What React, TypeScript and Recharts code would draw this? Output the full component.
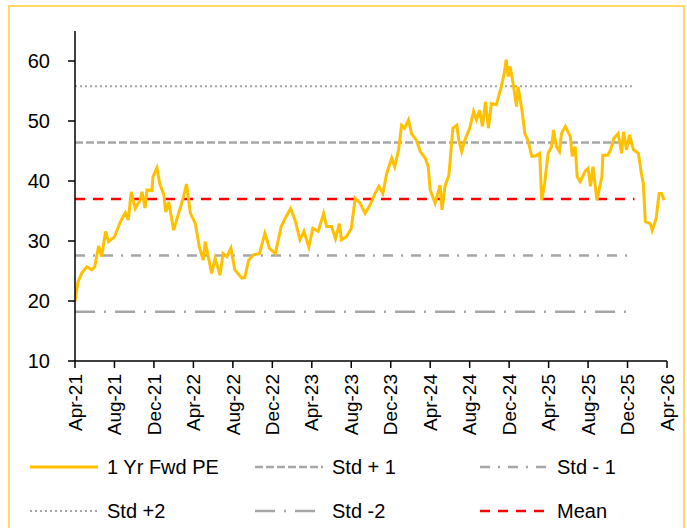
import { LineChart, Line, XAxis, YAxis } from "recharts";

// months since Apr-21 and 1 Yr Fwd PE
const months = [
  0.0, 0.3, 0.7, 1.2, 1.7, 2.0, 2.4, 2.7, 3.1, 3.4, 4.0, 4.6, 5.1, 5.4, 5.7, 6.1, 6.6, 6.8, 7.1, 7.3,
  7.8, 7.9, 8.3, 8.6, 9.0, 9.2, 9.5, 10.0, 10.5, 11.0, 11.3, 11.7, 12.2, 12.6, 13.0, 13.2, 13.85, 14.2, 14.7, 15.0,
  15.4, 15.8, 16.2, 16.9, 17.2, 17.6, 18.1, 18.7, 19.25, 19.7, 20.3, 20.9, 21.4, 21.85, 22.3, 22.8, 23.2, 23.7, 24.1, 24.65,
  25.2, 25.5, 26.0, 26.4, 26.8, 27.0, 27.5, 28.0, 28.4, 28.9, 29.4, 29.9, 30.4, 30.8, 31.2, 31.6, 32.1, 32.4, 32.8, 33.1,
  33.4, 33.8, 34.1, 34.6, 35.0, 35.5, 35.8, 36.0, 36.5, 36.7, 37.0, 37.2, 37.5, 37.9, 38.3, 38.7, 38.9, 39.2, 39.5, 40.0,
  40.4, 40.7, 41.0, 41.3, 41.6, 41.9, 42.2, 42.7, 43.2, 43.5, 43.7, 43.9, 44.1, 44.4, 44.75, 44.9, 45.3, 45.6, 45.9, 46.3,
  46.7, 47.1, 47.3, 47.6, 47.95, 48.3, 48.5, 48.8, 49.1, 49.3, 49.7, 50.2, 50.4, 50.7, 50.9, 51.2, 51.7, 52.0, 52.25, 52.5,
  52.9, 53.4, 53.5, 54.0, 54.3, 54.6, 55.05, 55.4, 55.6, 55.9, 56.2, 56.6, 57.1, 57.4, 57.6, 57.8, 58.3, 58.5, 58.9, 59.2,
  59.45, 59.7,
];
const pe = [
  19.9, 23.2, 24.7, 25.7, 25.2, 25.7, 29.2, 27.4, 31.6, 29.9, 30.7, 33.2, 34.7, 33.5, 38.2, 35.4, 36.8, 38.2, 35.5, 38.5,
  38.4, 40.7, 42.2, 39.5, 37.7, 34.8, 36.5, 31.8, 34.6, 37.4, 39.5, 34.6, 32.9, 29.0, 26.8, 29.9, 24.6, 27.1, 24.3, 27.9,
  27.4, 28.8, 25.2, 23.8, 23.9, 26.8, 27.7, 27.9, 31.3, 28.8, 27.9, 32.4, 34.1, 35.4, 33.5, 30.2, 31.6, 29.0, 32.1, 31.6,
  34.6, 32.4, 32.4, 30.4, 32.9, 30.2, 30.7, 32.1, 37.1, 36.3, 34.6, 36.0, 37.9, 39.1, 37.9, 41.3, 43.8, 42.4, 45.2, 49.3,
  48.8, 50.2, 47.9, 46.8, 44.9, 43.8, 42.4, 38.5, 36.3, 37.5, 39.3, 35.2, 39.1, 41.0, 48.8, 49.3, 46.8, 44.9, 46.8, 48.8,
  51.6, 50.2, 51.8, 49.1, 53.2, 48.8, 52.9, 52.7, 55.7, 57.9, 60.2, 57.4, 59.1, 56.3, 52.4, 55.7, 51.8, 47.9, 46.8, 44.1,
  44.2, 44.6, 36.8, 39.6, 44.6, 45.7, 48.5, 45.7, 44.9, 47.9, 49.1, 47.4, 44.1, 45.7, 40.7, 39.9, 41.6, 42.1, 39.1, 42.4,
  36.8, 40.7, 44.3, 44.3, 45.2, 47.1, 47.9, 44.6, 48.2, 45.2, 47.7, 45.2, 44.6, 41.3, 39.6, 33.2, 32.9, 31.8, 33.75, 37.9,
  37.9, 36.8,
];

const tickMonths = [0, 4, 8, 12, 16, 20, 24, 28, 32, 36, 40, 44, 48, 52, 56, 60];
const tickLabels = [
  "Apr-21", "Aug-21", "Dec-21", "Apr-22", "Aug-22", "Dec-22", "Apr-23", "Aug-23",
  "Dec-23", "Apr-24", "Aug-24", "Dec-24", "Apr-25", "Aug-25", "Dec-25", "Apr-26",
];
const yTicks = [10, 20, 30, 40, 50, 60];

// horizontal band lines
const bandKeys = ["std2p", "std1p", "mean", "std1m", "std2m"];
const bandValues = [55.8, 46.4, 37.0, 27.6, 18.2];
const bandEnd = 56.7;

const FONT = "'Liberation Sans', Arial, sans-serif";
const GOLD = "#FFC000";
const GREY = "#A6A6A6";

const styles: Record<string, { stroke: string; dash?: string; width: number }> = {
  pe: { stroke: GOLD, width: 3 },
  std1p: { stroke: GREY, dash: "8 3", width: 2.5 },
  std1m: { stroke: GREY, dash: "10 8 2 8", width: 2.5 },
  std2p: { stroke: GREY, dash: "2 3", width: 2 },
  std2m: { stroke: GREY, dash: "20 9 2 9", width: 2.5 },
  mean: { stroke: "#FF0000", dash: "10 8", width: 2.5 },
};

const peData = months.map((m, i) => ({ m, pe: pe[i] }));
const bandData = bandKeys.map((k, i) => [
  { m: 0, [k]: bandValues[i] },
  { m: bandEnd, [k]: bandValues[i] },
]);

const legendRows = [
  [
    { key: "pe", name: "1 Yr Fwd PE" },
    { key: "std1p", name: "Std + 1" },
    { key: "std1m", name: "Std - 1" },
  ],
  [
    { key: "std2p", name: "Std +2" },
    { key: "std2m", name: "Std -2" },
    { key: "mean", name: "Mean" },
  ],
];

function XTick(props: any) {
  const { x, y, payload } = props;
  const idx = tickMonths.indexOf(payload.value);
  return (
    <g transform={`translate(${x},${y})`}>
      <text
        x={0}
        y={0}
        dy="0.35em"
        transform="rotate(-90)"
        textAnchor="end"
        fontSize={19}
        fontFamily={FONT}
        fill="#000"
      >
        {tickLabels[idx]}
      </text>
    </g>
  );
}

export default function App() {
  return (
    <div style={{ position: "absolute", left: 0, top: 0, width: 687, height: 528 }}>
      <div
        style={{
          position: "absolute",
          left: 8,
          top: 5,
          width: 677,
          height: 530,
          border: "2px solid #FFD966",
          boxSizing: "border-box",
        }}
      />
      <div style={{ position: "absolute", left: 0, top: 0 }}>
        <LineChart
          width={687}
          height={450}
          data={peData}
          margin={{ top: 31, right: 20, left: 0, bottom: 0 }}
        >
          <XAxis
            dataKey="m"
            type="number"
            domain={[0, 60]}
            ticks={tickMonths}
            interval={0}
            allowDataOverflow
            height={89}
            tickSize={7}
            tickMargin={6}
            axisLine={{ stroke: "#000", strokeWidth: 1.5 }}
            tickLine={{ stroke: "#000", strokeWidth: 1.5 }}
            tick={<XTick />}
          />
          <YAxis
            type="number"
            domain={[10, 65]}
            ticks={yTicks}
            interval={0}
            width={75}
            tickSize={7}
            tickMargin={18}
            axisLine={{ stroke: "#000", strokeWidth: 1.5 }}
            tickLine={{ stroke: "#000", strokeWidth: 1.5 }}
            tick={{ fontSize: 20, fill: "#000", fontFamily: FONT }}
          />
          {bandKeys.map((k, i) => (
            <Line
              key={k}
              data={bandData[i]}
              dataKey={k}
              type="linear"
              stroke={styles[k].stroke}
              strokeWidth={styles[k].width}
              strokeDasharray={styles[k].dash}
              dot={false}
              activeDot={false}
              isAnimationActive={false}
            />
          ))}
          <Line
            dataKey="pe"
            type="linear"
            stroke={GOLD}
            strokeWidth={styles.pe.width}
            dot={false}
            activeDot={false}
            isAnimationActive={false}
          />
        </LineChart>
      </div>
      {legendRows.map((row, r) =>
        row.map((item, c) => (
          <div
            key={item.key}
            style={{
              position: "absolute",
              left: 30 + c * 225,
              top: (r === 0 ? 467 : 511) - 12,
              height: 24,
              display: "flex",
              alignItems: "center",
              fontFamily: FONT,
              fontSize: 20,
              color: "#000",
              whiteSpace: "nowrap",
            }}
          >
            <svg width={68} height={6} style={{ marginRight: 9 }}>
              <line
                x1={0}
                y1={3}
                x2={68}
                y2={3}
                stroke={styles[item.key].stroke}
                strokeWidth={styles[item.key].width}
                strokeDasharray={styles[item.key].dash}
              />
            </svg>
            <span>{item.name}</span>
          </div>
        ))
      )}
    </div>
  );
}
